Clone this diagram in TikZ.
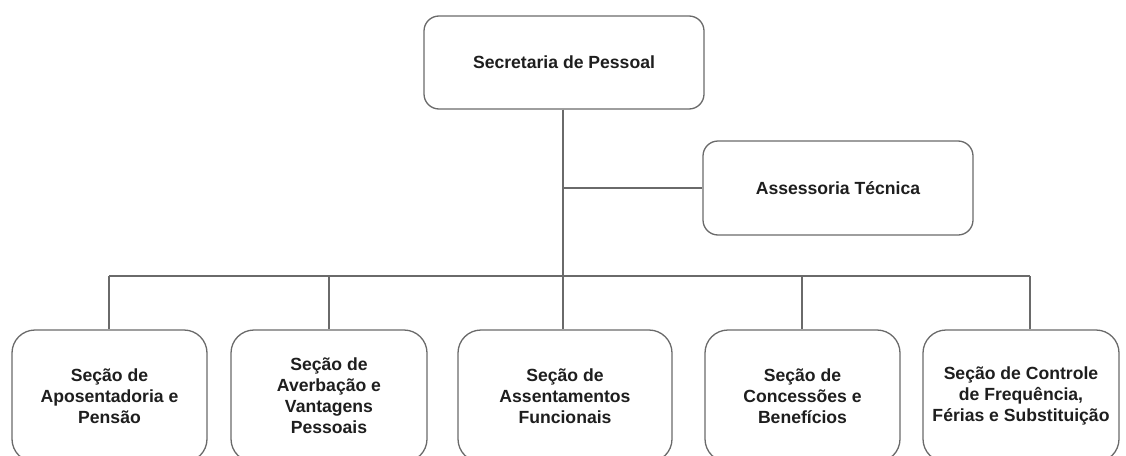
\documentclass[tikz,border=0pt]{standalone}
\usepackage{fontspec}
\setmainfont{Liberation Sans}
\definecolor{linegray}{HTML}{6A6A6A}
\definecolor{txt}{HTML}{1E1E1E}
\begin{document}
\begin{tikzpicture}[x=1pt,y=-1pt,
  box/.style={draw=linegray, line width=1.3pt, fill=white, inner sep=0pt, align=center,
    text=txt, font=\fontsize{17.6}{21}\selectfont\bfseries},
  topbox/.style={box, rounded corners=15pt, minimum width=280pt, minimum height=93pt},
  bottombox/.style={box, rounded corners=23pt, minimum height=132pt},
  conn/.style={draw=linegray, line width=1.3pt}]
\useasboundingbox (0,0) rectangle (1126,455);
\clip (0,0) rectangle (1126,455);
\fill[white] (0,0) rectangle (1126,455);

\node[topbox] (sec) at (564,62.5) {Secretaria de Pessoal};
\node[topbox, minimum width=270pt, minimum height=94pt] (ass) at (838,188) {Assessoria Técnica};

\node[bottombox, minimum width=195pt] (b1) at (109.5,396) {Seção de\\Aposentadoria e\\Pensão};
\node[bottombox, minimum width=196pt] (b2) at (329,396) {Seção de\\Averbação e\\Vantagens\\Pessoais};
\node[bottombox, minimum width=214pt] (b3) at (565,396) {Seção de\\Assentamentos\\Funcionais};
\node[bottombox, minimum width=195pt] (b4) at (802.5,396) {Seção de\\Concessões e\\Benefícios};
\node[bottombox, minimum width=196pt] (b5) at (1021,396) {Seção de Controle\\de Frequência,\\Férias e Substituição};

\coordinate (hub) at (563,276);
\coordinate (d1) at (109,276);
\coordinate (d2) at (329,276);
\coordinate (d4) at (802,276);
\coordinate (d5) at (1030,276);

\draw[conn] (sec.south -| hub) -- (hub);
\draw[conn] (sec.south -| hub) |- (ass.west);
\draw[conn] (d1) -- (d5);
\draw[conn] (d1) -- (d1 |- b1.north);
\draw[conn] (d2) -- (d2 |- b2.north);
\draw[conn] (hub) -- (hub |- b3.north);
\draw[conn] (d4) -- (d4 |- b4.north);
\draw[conn] (d5) -- (d5 |- b5.north);
\end{tikzpicture}
\end{document}
